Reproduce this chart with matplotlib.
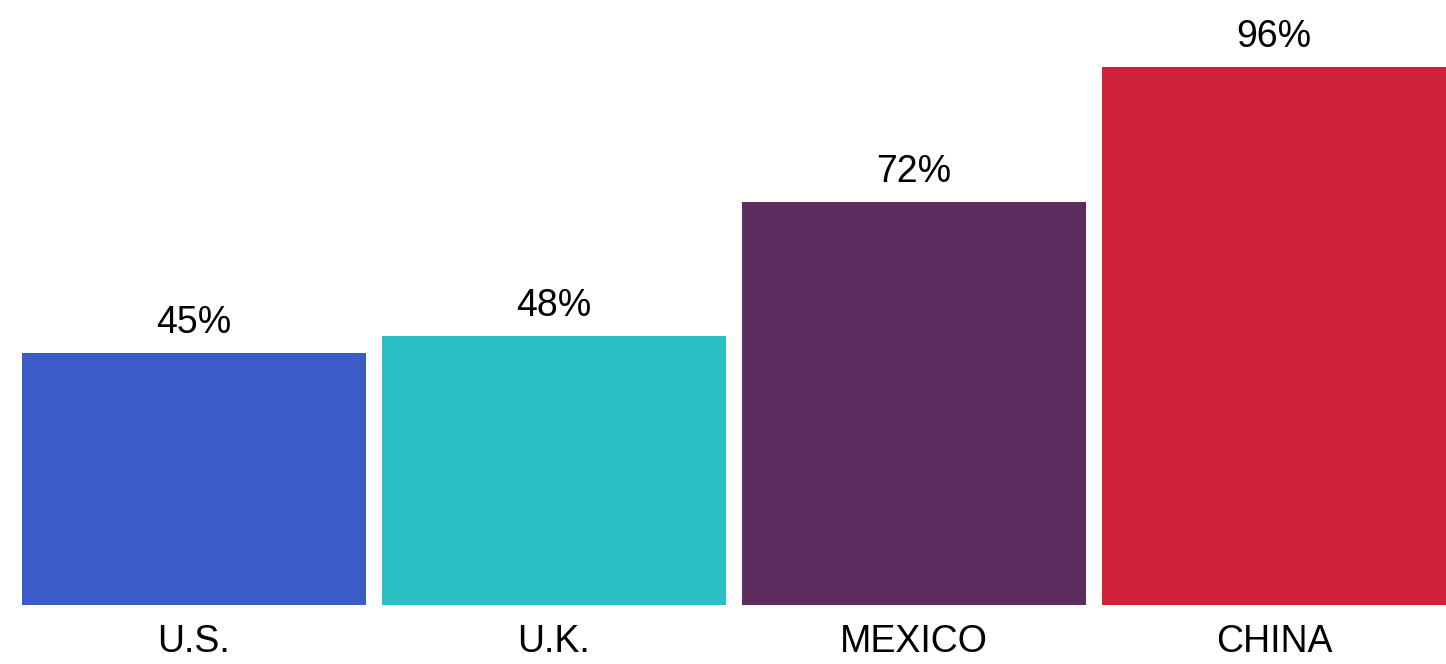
import numpy as np
import matplotlib
matplotlib.use("Agg")
from matplotlib import pyplot as plt

plt.rcParams['font.family'] = ['Liberation Sans', 'DejaVu Sans']

countries = ['U.S.', 'U.K.', 'MEXICO', 'CHINA']
shares = [45, 48, 72, 96]
colors = ['#3b5bc7', '#2cc0c4', '#5e2c5e', '#d1213a']


def bar_chart():
    fig = plt.figure(figsize=(14.46, 6.64), dpi=100)
    # axes span the full width; the bars sit 59px above the bottom edge
    ax = fig.add_axes([0, 59 / 664, 1, 560 / 664])
    x = np.arange(len(countries))
    bars = ax.bar(x, shares, width=344 / 360, color=colors)

    for bar, v in zip(bars, shares):
        ax.annotate(f'{v}%', (bar.get_x() + bar.get_width() / 2, v),
                    xytext=(0, 14.4), textcoords='offset points',
                    ha='center', va='baseline', fontsize=27, color='black')

    ax.set_xlim(-194 / 360, (1446 - 194) / 360)
    ax.set_ylim(0, 100)
    ax.set_xticks(x, labels=countries, fontsize=27)
    ax.tick_params(axis='x', length=0, pad=14)
    ax.set_yticks([])
    for s in ax.spines.values():
        s.set_visible(False)
    return fig


def main():
    fig = bar_chart()
    fig.savefig('out.png', dpi=100)


if __name__ == "__main__":
    main()
